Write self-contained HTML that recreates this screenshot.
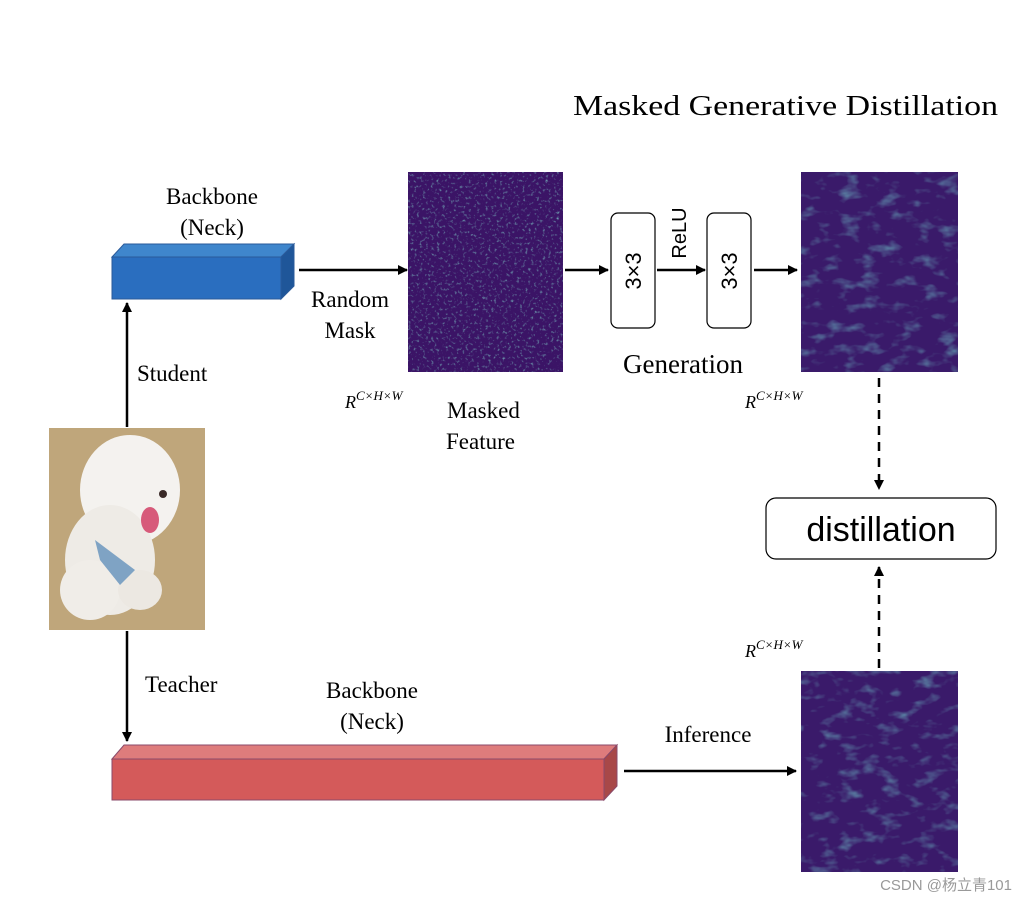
<!DOCTYPE html>
<html><head><meta charset="utf-8"><style>
html,body{margin:0;padding:0;background:#fff;}
svg{display:block}
.s{font-family:"Liberation Serif",serif;fill:#000}
.a{font-family:"Liberation Sans",sans-serif;fill:#000}
</style></head><body>
<svg width="1026" height="901" viewBox="0 0 1026 901" xmlns="http://www.w3.org/2000/svg">
<defs>
<marker id="ar" markerWidth="10" markerHeight="10" refX="9" refY="5" orient="auto" markerUnits="userSpaceOnUse"><path d="M0,0 L10,5 L0,10 z" fill="#000"/></marker>
<filter id="noise" x="0" y="0" width="100%" height="100%">
<feTurbulence type="fractalNoise" baseFrequency="0.35" numOctaves="2" seed="3" result="n"/>
<feColorMatrix in="n" type="matrix" values="0 0 0 0 0.2  0 0 0 0 0.55  0 0 0 0 0.55  0 0 0 2.2 -1.25"/>
</filter>
<filter id="noise2" x="0" y="0" width="100%" height="100%">
<feTurbulence type="fractalNoise" baseFrequency="0.05 0.09" numOctaves="3" seed="7" result="n"/>
<feColorMatrix in="n" type="matrix" values="0 0 0 0 0.15  0 0 0 0 0.5  0 0 0 0 0.55  0 0 0 1.6 -0.85"/>
</filter>
</defs>

<text class="s" x="573" y="115" font-size="28" textLength="425" lengthAdjust="spacingAndGlyphs">Masked Generative Distillation</text>

<!-- blue prism -->
<polygon points="112,257 124,244 294,244 281,257" fill="#3f86cc" stroke="#2a5a9a" stroke-width="1"/>
<polygon points="281,257 294,244 294,286 281,299" fill="#1f5699" stroke="#2a5a9a" stroke-width="1"/>
<rect x="112" y="257" width="169" height="42" fill="#2a6ebf" stroke="#2a5a9a" stroke-width="1"/>
<text class="s" x="212" y="204" font-size="23" text-anchor="middle">Backbone</text>
<text class="s" x="212" y="235" font-size="23" text-anchor="middle">(Neck)</text>

<line x1="299" y1="270" x2="407" y2="270" stroke="#000" stroke-width="2.5" marker-end="url(#ar)"/>
<text class="s" x="350" y="307" font-size="23" text-anchor="middle">Random</text>
<text class="s" x="350" y="338" font-size="23" text-anchor="middle">Mask</text>

<rect x="408" y="172" width="155" height="200" fill="#3b1466"/>
<rect x="408" y="172" width="155" height="200" filter="url(#noise)"/>

<line x1="565" y1="270" x2="608" y2="270" stroke="#000" stroke-width="2.5" marker-end="url(#ar)"/>
<rect x="611" y="213" width="44" height="115" rx="7" fill="#fff" stroke="#000" stroke-width="1.2"/>
<text class="a" font-size="22" text-anchor="middle" transform="translate(641,271) rotate(-90)">3×3</text>
<text class="a" font-size="20" text-anchor="middle" transform="translate(686,233) rotate(-90)">ReLU</text>
<line x1="657" y1="270" x2="705" y2="270" stroke="#000" stroke-width="2.5" marker-end="url(#ar)"/>
<rect x="707" y="213" width="44" height="115" rx="7" fill="#fff" stroke="#000" stroke-width="1.2"/>
<text class="a" font-size="22" text-anchor="middle" transform="translate(737,271) rotate(-90)">3×3</text>
<line x1="754" y1="270" x2="797" y2="270" stroke="#000" stroke-width="2.5" marker-end="url(#ar)"/>
<text class="s" x="683" y="373" font-size="27" text-anchor="middle">Generation</text>

<rect x="801" y="172" width="157" height="200" fill="#3a1a6a"/>
<rect x="801" y="172" width="157" height="200" filter="url(#noise2)"/>

<text x="345" y="408" font-family="Liberation Serif,serif" font-style="italic" font-size="18">R<tspan dy="-8" font-size="13">C×H×W</tspan></text>
<text x="745" y="408" font-family="Liberation Serif,serif" font-style="italic" font-size="18">R<tspan dy="-8" font-size="13">C×H×W</tspan></text>
<text x="745" y="657" font-family="Liberation Serif,serif" font-style="italic" font-size="18">R<tspan dy="-8" font-size="13">C×H×W</tspan></text>
<text class="s" x="447" y="418" font-size="23">Masked</text>
<text class="s" x="446" y="449" font-size="23">Feature</text>

<line x1="127" y1="427" x2="127" y2="303" stroke="#000" stroke-width="2.5" marker-end="url(#ar)"/>
<text class="s" x="137" y="381" font-size="23">Student</text>

<rect x="49" y="428" width="156" height="202" fill="#b59a6c"/>
<rect x="49" y="428" width="156" height="202" fill="#c9b189" opacity="0.5"/>
<ellipse cx="130" cy="490" rx="50" ry="55" fill="#f4f2ef"/>
<ellipse cx="110" cy="560" rx="45" ry="55" fill="#eeebe6"/>
<ellipse cx="90" cy="590" rx="30" ry="30" fill="#f0ede8"/>
<ellipse cx="140" cy="590" rx="22" ry="20" fill="#ece8e2"/>
<path d="M95,540 L135,570 L120,585 L100,560 z" fill="#7fa3c4"/>
<ellipse cx="150" cy="520" rx="9" ry="13" fill="#d75a7a"/>
<circle cx="163" cy="494" r="4" fill="#3a2a28"/>

<line x1="127" y1="631" x2="127" y2="741" stroke="#000" stroke-width="2.5" marker-end="url(#ar)"/>
<text class="s" x="145" y="692" font-size="23">Teacher</text>

<polygon points="112,759 124,745 617,745 604,759" fill="#de7c7c" stroke="#8a4a6a" stroke-width="1"/>
<polygon points="604,759 617,745 617,786 604,800" fill="#a84848" stroke="#8a4a6a" stroke-width="1"/>
<rect x="112" y="759" width="492" height="41" fill="#d45a5a" stroke="#8a4a6a" stroke-width="1"/>
<text class="s" x="372" y="698" font-size="23" text-anchor="middle">Backbone</text>
<text class="s" x="372" y="729" font-size="23" text-anchor="middle">(Neck)</text>

<line x1="624" y1="771" x2="796" y2="771" stroke="#000" stroke-width="2.5" marker-end="url(#ar)"/>
<text class="s" x="708" y="742" font-size="23" text-anchor="middle">Inference</text>

<rect x="801" y="671" width="157" height="201" fill="#3a1a6a"/>
<rect x="801" y="671" width="157" height="201" filter="url(#noise2)"/>

<line x1="879" y1="378" x2="879" y2="489" stroke="#000" stroke-width="2.5" stroke-dasharray="9,7" marker-end="url(#ar)"/>
<line x1="879" y1="668" x2="879" y2="567" stroke="#000" stroke-width="2.5" stroke-dasharray="9,7" marker-end="url(#ar)"/>

<rect x="766" y="498" width="230" height="61" rx="10" fill="#fff" stroke="#000" stroke-width="1.2"/>
<text class="a" x="881" y="541" font-size="34" text-anchor="middle">distillation</text>

<text x="1012" y="890" font-family="Liberation Sans,'Noto Sans CJK SC',sans-serif" font-size="15" fill="#999" text-anchor="end">CSDN @杨立青101</text>
</svg>
</body></html>
